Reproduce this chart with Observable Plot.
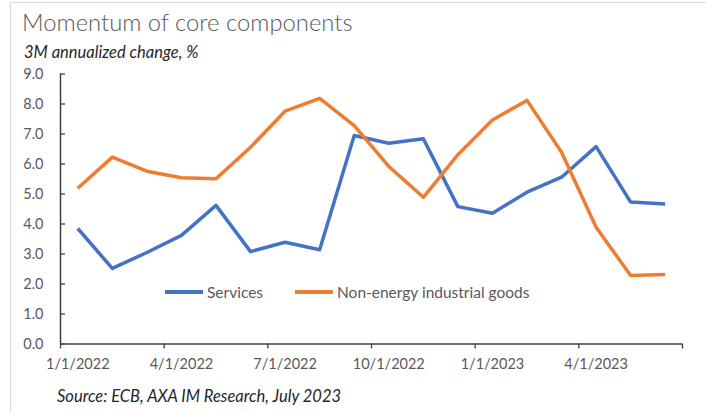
<!DOCTYPE html>
<html>
<head>
<meta charset="utf-8">
<script src="https://cdn.jsdelivr.net/npm/d3@7"></script>
<script src="https://cdn.jsdelivr.net/npm/@observablehq/plot@0.6"></script>
<style>
  html, body { margin: 0; padding: 0; background: #fff; }
  body { font-family: Lato, "Open Sans", sans-serif; width: 706px; height: 412px; position: relative; overflow: hidden; }
  #frame { position: absolute; left: 10px; top: 2px; width: 700px; height: 420px; border-left: 1px solid #d9d9d9; border-top: 1px solid #d9d9d9; pointer-events: none; }
  #header { position: relative; height: 64px; }
  #title { position: absolute; left: 22px; top: 8px; font-size: 23.8px; font-weight: 300; color: #595959; white-space: nowrap; }
  #subtitle { position: absolute; left: 24px; top: 42px; font-size: 16.5px; font-style: italic; color: #262626; white-space: nowrap; line-height: 20px; }
  #chart { position: relative; height: 316px; }
  #chart svg { overflow: visible; display: block; }
  .legend { position: absolute; top: 218px; font-size: 15.5px; color: #595959; white-space: nowrap; display: flex; align-items: center; line-height: 20px; }
  .sw { display: inline-block; width: 38px; height: 3.5px; margin-right: 4px; }
  #caption { position: absolute; left: 57px; top: 386px; font-size: 16.5px; font-style: italic; color: #262626; white-space: nowrap; line-height: 20px; }
</style>
</head>
<body>
<div id="frame"></div>
<div id="header">
  <div id="title">Momentum of core components</div>
  <div id="subtitle">3M annualized change, %</div>
</div>
<div id="chart"></div>
<div id="caption">Source: ECB, AXA IM Research, July 2023</div>
<script>
// ---- data ----
const months = ["1/1/2022","2/1/2022","3/1/2022","4/1/2022","5/1/2022","6/1/2022",
                "7/1/2022","8/1/2022","9/1/2022","10/1/2022","11/1/2022","12/1/2022",
                "1/1/2023","2/1/2023","3/1/2023","4/1/2023","5/1/2023","6/1/2023"];
const services = [3.85, 2.52, 3.05, 3.62, 4.62, 3.08, 3.39, 3.14, 6.95, 6.69, 6.84, 4.58,
                  4.36, 5.06, 5.56, 6.58, 4.73, 4.67];
const neig = [5.19, 6.23, 5.76, 5.54, 5.51, 6.56, 7.76, 8.19, 7.28, 5.92, 4.89, 6.31,
              7.47, 8.12, 6.39, 3.89, 2.28, 2.32];
const seriesNames = ["Services", "Non-energy industrial goods"];
const seriesColors = ["#4472C4", "#ED7D31"];
const xTickLabels = ["1/1/2022","4/1/2022","7/1/2022","10/1/2022","1/1/2023","4/1/2023"];
const yTicks = [0,1,2,3,4,5,6,7,8,9];

// category index positions (Excel-style: points centred in month slots)
const rows = [];
months.forEach((m, i) => {
  rows.push({series: seriesNames[0], idx: i + 0.5, month: m, value: services[i]});
  rows.push({series: seriesNames[1], idx: i + 0.5, month: m, value: neig[i]});
});
const labelPos = xTickLabels.map(l => months.indexOf(l) + 0.5);
const tickPos = d3.range(0, months.length + 1, 3);

const axisColor = "#595959";
const plot = Plot.plot({
  width: 706,
  height: 316,
  marginLeft: 60,
  marginRight: 24,
  marginTop: 9.5,
  marginBottom: 36.5,
  style: {fontFamily: "Lato, 'Open Sans', sans-serif", fontSize: "14.5px", color: axisColor, background: "transparent"},
  x: {type: "linear", domain: [0, months.length]},
  y: {domain: [0, 9]},
  color: {domain: seriesNames, range: seriesColors},
  marks: [
    Plot.axisY({ticks: yTicks, tickSize: 0, tickPadding: 17, tickFormat: d => d.toFixed(1), fill: axisColor, label: null}),
    Plot.axisY({ticks: yTicks, tickSize: -5, tickFormat: () => "", stroke: "#404040", strokeWidth: 1.3, label: null}),
    Plot.axisX({ticks: tickPos, tickSize: 5, tickFormat: () => "", stroke: "#404040", strokeWidth: 1.3, label: null}),
    Plot.axisX({ticks: labelPos, tickSize: 0, tickPadding: 15, tickFormat: d => months[Math.round(d - 0.5)], fill: axisColor, label: null}),
    Plot.ruleY([0], {stroke: "#404040", strokeWidth: 1.5}),
    Plot.ruleX([0], {y1: 0, y2: 9, stroke: "#404040", strokeWidth: 1.5}),
    Plot.line(rows, {x: "idx", y: "value", z: "series", stroke: "series", strokeWidth: 3.5, strokeLinejoin: "round", strokeLinecap: "butt"})
  ]
});
document.getElementById("chart").appendChild(plot);

// legend inside the plot area
const legendLeft = [165, 295];
seriesNames.forEach((name, k) => {
  const d = document.createElement("div");
  d.className = "legend";
  d.style.left = legendLeft[k] + "px";
  d.innerHTML = `<span class="sw" style="background:${seriesColors[k]}"></span><span>${name}</span>`;
  document.getElementById("chart").appendChild(d);
});
</script>
</body>
</html>
